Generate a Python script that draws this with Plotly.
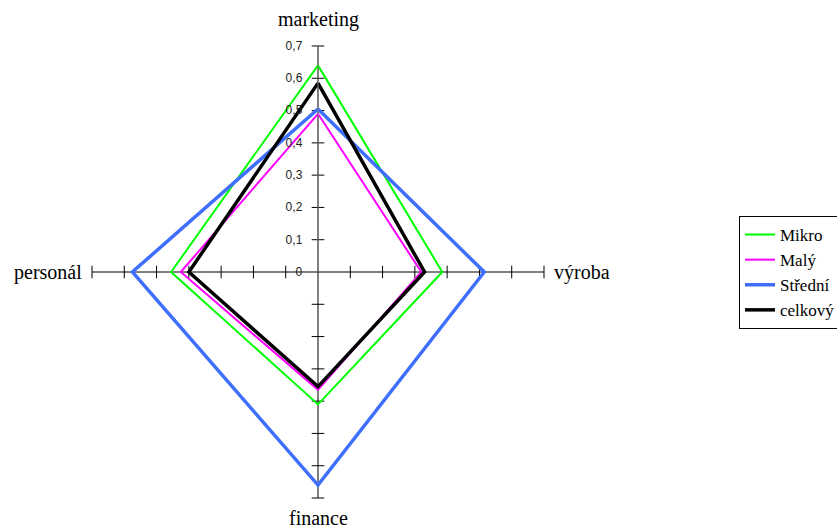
import plotly.graph_objects as go

# Kategorie (osy) a hodnoty jednotlivých řad
kategorie = ["marketing", "výroba", "finance", "personál"]
mikro = [0.64, 0.385, 0.41, 0.455]
maly = [0.49, 0.32, 0.365, 0.425]
stredni = [0.505, 0.515, 0.66, 0.575]
celkovy = [0.585, 0.33, 0.355, 0.40]

radial_ticks = [0, 0.1, 0.2, 0.3, 0.4, 0.5, 0.6, 0.7]
radial_labels = ["0", "0,1", "0,2", "0,3", "0,4", "0,5", "0,6", "0,7"]

rady = [
    ("Mikro", mikro, "#00ff00", 2),
    ("Malý", maly, "#ff00ff", 2),
    ("Střední", stredni, "#3f6fff", 3.5),
    ("celkový", celkovy, "#000000", 3.5),
]

fig = go.Figure()

# Značky na osách (Excel kreslí čárky přes osu)
for kat in kategorie:
    symbol = "line-ew" if kat in ("marketing", "finance") else "line-ns"
    fig.add_trace(go.Scatterpolar(
        r=radial_ticks[1:], theta=[kat] * (len(radial_ticks) - 1),
        mode="markers", showlegend=False, hoverinfo="skip",
        marker=dict(symbol=symbol, size=9, line=dict(color="black", width=1)),
    ))

for nazev, hodnoty, barva, sirka in rady:
    fig.add_trace(go.Scatterpolar(
        r=hodnoty + hodnoty[:1], theta=kategorie + kategorie[:1],
        mode="lines", name=nazev,
        line=dict(color=barva, width=sirka),
    ))

# Popisky kategorií mimo osy (jako v Excelu)
popisky = [
    ("marketing", 318, 33, "center", "bottom"),
    ("výroba", 552, 272, "left", "middle"),
    ("finance", 318, 531, "center", "bottom"),
    ("personál", 84, 272, "right", "middle"),
]
for text, px, py, xa, ya in popisky:
    fig.add_annotation(
        text=text, x=px / 837, y=1 - py / 531, xref="paper", yref="paper",
        xanchor=xa, yanchor=ya, showarrow=False,
        font=dict(family="Liberation Serif", size=20, color="black"),
    )

fig.update_layout(
    width=837, height=531,
    margin=dict(l=0, r=0, t=0, b=0, autoexpand=False),
    paper_bgcolor="white",
    separators=", ",
    polar=dict(
        domain=dict(x=[92 / 837, 544 / 837], y=[1 - 498 / 531, 1 - 46 / 531]),
        bgcolor="white",
        radialaxis=dict(
            range=[0, 0.7], angle=90, side="counterclockwise",
            tickvals=radial_ticks, ticktext=radial_labels,
            showgrid=False, showline=True, linecolor="#808080", linewidth=1,
            # neviditelné čárky jen odsunou popisky od osy
            ticks="outside", ticklen=11, tickcolor="rgba(0,0,0,0)",
            tickfont=dict(family="Liberation Sans", size=12, color="#222"),
            tickangle=90,
        ),
        angularaxis=dict(
            categoryarray=kategorie, categoryorder="array",
            rotation=90, direction="clockwise",
            showline=False, showgrid=True, gridcolor="black", gridwidth=1,
            ticks="", showticklabels=False,
        ),
    ),
    legend=dict(
        x=739 / 837, y=1 - 216 / 531, xanchor="left", yanchor="top",
        bgcolor="white", bordercolor="black", borderwidth=1,
        itemwidth=30,
        font=dict(family="Liberation Serif", size=17, color="black"),
    ),
)

# bez okraje stránky, aby graf seděl přesně v okně
fig.write_html("out.html", config={"displayModeBar": False},
               post_script="document.body.style.margin = '0';")
